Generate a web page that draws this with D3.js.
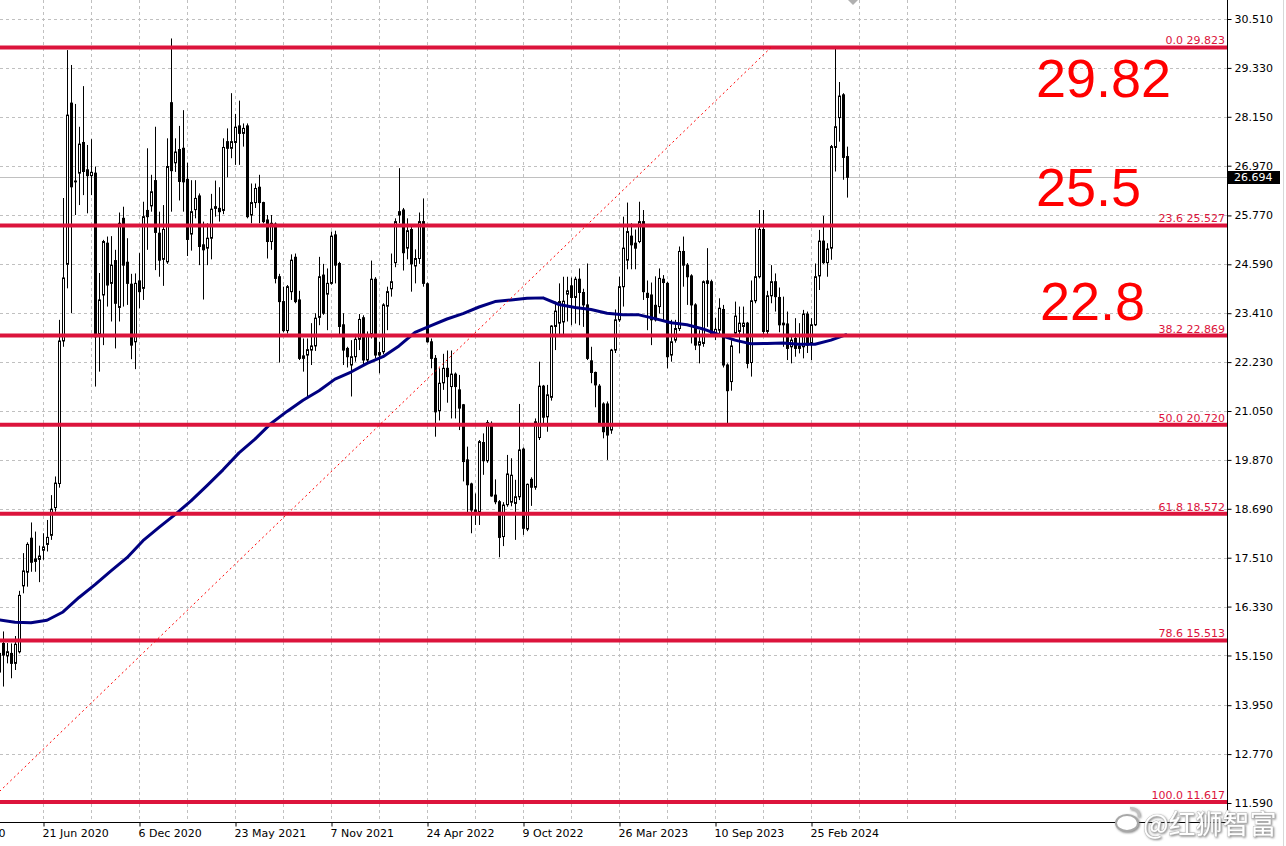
<!DOCTYPE html>
<html><head><meta charset="utf-8">
<script src="https://cdn.jsdelivr.net/npm/d3@7"></script>
<style>
html,body{margin:0;padding:0;background:#fff;overflow:hidden;}
svg{display:block;}
</style></head><body>
<svg id="chart" width="1286" height="846"></svg>
<script>
// ---------------- DATA ----------------
const firstWeek = "2020-04-05"; // first weekly bar
const opens = [15.20,15.44,15.14,15.20,14.96,15.24,16.83,17.16,17.98,17.42,17.47,17.69,17.83,18.05,18.72,19.30,22.74,24.59,28.48,26.60,
26.79,27.53,26.87,26.73,26.79,22.90,23.85,25.10,24.13,24.68,23.55,25.70,24.64,24.11,22.72,24.19,24.01,25.89,26.00,26.61,
25.34,24.71,24.65,28.49,27.04,27.36,27.39,26.64,25.32,25.91,26.24,25.06,24.98,25.22,25.98,25.94,25.89,27.55,27.39,27.53,
27.93,27.75,27.93,25.78,26.08,26.45,26.08,25.66,25.14,25.56,24.29,23.69,22.99,23.93,24.76,23.73,22.32,22.40,22.52,22.62,
23.31,24.33,23.87,24.13,25.30,24.61,23.13,22.56,22.16,22.36,22.78,23.30,22.28,22.92,24.23,22.40,22.48,23.58,24.00,24.63,
25.86,25.90,24.98,25.43,24.55,24.73,25.62,24.12,22.72,22.32,21.06,21.73,22.08,21.64,21.94,21.56,21.20,19.87,19.29,18.66,
18.62,20.29,19.85,20.75,19.02,18.86,18.02,18.79,18.85,18.82,18.98,20.13,18.20,19.40,19.21,20.41,21.65,20.91,21.38,23.09,
23.17,23.20,23.87,24.07,23.79,24.23,23.91,23.61,22.26,21.98,21.65,21.22,21.22,20.59,22.52,23.25,24.05,24.69,25.27,25.10,
25.14,25.62,23.89,23.85,23.60,23.57,24.23,24.13,22.40,22.76,23.04,24.90,24.57,24.31,23.61,22.64,22.68,24.19,24.17,22.92,
23.00,23.50,22.16,21.76,22.93,22.97,23.09,23.17,22.22,23.71,24.29,25.43,22.97,23.83,24.17,23.79,23.17,23.15,22.60,22.80,
22.56,22.60,23.39,22.68,23.13,24.31,25.15,24.63,24.98,27.41,28.13,28.68,27.19];
const highs = [15.50,15.73,15.45,15.44,15.62,16.71,17.62,17.88,18.36,18.14,17.80,18.10,18.42,19.02,19.47,23.25,26.19,29.76,29.40,28.46,
27.91,28.89,27.47,27.61,26.95,24.38,25.18,25.26,25.27,24.94,25.84,25.98,25.22,24.36,24.37,24.86,26.10,27.39,26.75,27.91,
25.86,26.02,27.63,30.04,27.63,27.93,28.31,27.04,26.62,26.62,26.30,25.62,25.58,26.29,26.61,26.45,27.63,27.87,28.72,28.22,
28.54,27.99,27.99,26.54,26.54,26.75,26.10,25.78,25.78,25.60,24.36,24.05,24.09,24.83,24.85,23.95,22.80,22.80,23.17,23.41,
24.77,24.60,24.49,25.38,25.40,24.65,23.41,22.60,22.76,22.91,23.39,23.36,22.97,24.68,24.28,22.72,23.65,24.05,24.85,25.70,
26.91,25.95,25.70,25.54,24.95,25.84,26.18,24.15,22.80,22.40,22.08,22.43,22.51,22.51,21.98,21.92,21.22,20.19,19.32,19.06,
20.35,20.51,20.83,20.80,19.40,18.90,18.85,19.99,19.91,19.39,21.22,20.17,19.30,19.45,20.87,22.24,21.68,21.68,23.12,23.69,
24.13,24.29,24.29,24.27,24.29,24.49,24.00,24.61,22.60,22.00,21.70,21.26,21.28,22.55,23.50,24.29,25.74,26.08,25.58,25.43,
26.10,25.90,24.20,24.15,24.30,24.49,24.33,24.17,23.25,23.25,25.02,25.26,24.62,24.35,23.65,23.00,24.20,24.98,24.22,23.30,
23.77,23.61,22.20,22.76,23.69,23.57,23.57,23.20,24.20,25.46,25.90,25.90,23.95,24.57,24.37,24.03,23.81,23.45,22.85,23.29,
23.17,23.49,23.45,23.29,24.61,25.42,25.76,25.10,27.47,29.80,28.99,28.72,27.43];
const lows = [14.60,14.40,14.96,14.60,14.80,15.20,16.65,16.81,17.17,17.17,16.92,17.46,17.66,17.94,18.62,19.20,22.60,24.01,23.41,25.78,
26.02,26.26,25.82,26.26,21.64,22.00,22.64,23.57,23.21,22.56,23.21,23.57,23.61,22.30,22.06,23.53,23.73,24.94,25.86,24.45,
24.29,24.07,24.60,25.86,26.82,26.13,25.86,24.79,24.92,25.70,24.57,23.74,24.57,24.71,25.74,25.62,25.80,26.69,27.15,26.99,
26.99,27.43,25.70,25.58,25.95,25.58,25.58,24.73,24.94,24.13,22.22,22.95,22.92,23.73,23.65,22.28,22.00,21.36,22.16,22.50,
23.12,23.37,23.00,24.10,24.13,22.88,22.16,22.10,21.40,22.24,22.52,22.16,22.20,22.80,22.32,21.96,22.42,23.00,23.81,24.52,
25.58,24.44,24.71,23.93,24.13,24.60,24.05,22.70,22.08,20.43,20.82,21.56,21.25,20.87,20.87,20.59,19.35,18.58,18.10,18.30,
18.30,19.51,19.80,18.98,18.80,17.52,17.79,18.74,18.75,17.94,18.90,18.06,18.15,18.76,19.15,20.35,20.74,20.55,21.30,22.52,
22.88,22.85,23.21,23.12,23.16,23.12,23.08,22.28,21.72,21.14,20.70,20.39,19.87,20.50,22.45,23.20,23.57,24.47,24.47,24.47,
25.10,23.73,23.00,22.64,23.21,23.40,23.25,22.08,22.24,22.70,22.98,24.05,23.61,22.68,22.52,22.20,22.60,23.08,22.90,22.76,
22.92,22.10,20.75,21.54,22.85,22.44,22.85,22.08,21.88,23.65,24.25,22.90,22.90,23.65,23.45,22.95,22.60,22.28,22.20,22.36,
22.44,22.32,22.45,22.28,23.10,23.97,24.60,24.29,24.70,26.83,27.55,26.63,26.20];
const closes = [14.75,15.16,15.24,14.96,15.42,16.60,17.19,17.83,17.40,17.48,17.55,17.77,18.00,18.68,19.31,22.74,24.26,28.19,26.46,26.58,
27.49,26.83,26.73,26.81,22.84,23.73,25.14,24.09,24.57,23.65,25.58,24.57,24.13,22.64,24.13,23.93,25.74,25.74,26.34,25.36,
24.69,25.43,26.95,26.85,27.30,26.59,26.58,25.19,25.86,26.18,25.02,24.94,25.22,25.92,25.94,25.86,27.41,27.39,27.55,27.90,
27.75,27.87,25.74,26.08,26.42,26.08,25.62,25.14,25.58,24.25,23.69,22.99,24.05,24.69,23.69,22.32,22.38,22.53,22.62,23.29,
24.29,23.41,24.13,25.27,24.57,23.09,22.52,22.36,22.36,22.78,23.26,22.28,22.88,24.23,22.40,22.46,23.61,23.93,24.17,25.62,
25.78,24.87,25.40,24.60,24.73,25.62,24.13,22.72,22.32,21.03,21.72,22.08,21.88,21.94,21.64,21.12,19.83,19.27,18.66,18.60,
20.31,19.85,20.77,19.00,18.86,18.00,18.78,19.53,19.50,18.98,20.11,18.22,19.28,19.21,20.79,21.65,20.90,21.44,23.10,23.46,
23.69,23.70,23.95,23.79,24.23,23.91,23.61,22.32,21.98,21.68,20.75,20.55,20.47,22.52,23.25,24.05,24.98,25.38,25.06,24.98,
25.62,23.93,23.79,23.25,23.25,24.25,24.15,22.36,22.72,23.04,24.90,24.57,24.29,23.61,22.64,22.72,24.17,24.13,22.92,23.02,
23.53,22.16,21.54,22.62,23.34,23.17,23.17,22.20,23.71,24.29,25.43,22.97,23.83,24.17,23.81,23.13,23.13,22.56,22.76,22.56,
22.62,23.39,22.64,23.13,24.29,25.15,24.63,24.96,27.43,27.91,28.65,27.17,26.69];

// Moving average read every 4 bars (bar 0, 4, 8, ...)
const maStepBars = 4;
const maValues = [16.01,15.95,15.94,16.00,16.20,16.55,16.86,17.19,17.51,17.92,18.24,18.55,18.88,19.25,19.63,20.04,20.37,20.75,21.04,21.31,
21.54,21.82,21.99,22.20,22.36,22.62,22.95,23.11,23.27,23.40,23.56,23.69,23.73,23.77,23.78,23.62,23.55,23.50,23.41,23.37,
23.37,23.28,23.18,23.13,23.03,22.89,22.76,22.67,22.68,22.69,22.66,22.66,22.76,22.90];

const fibLevels = [0.0, 23.6, 38.2, 50.0, 61.8, 78.6, 100.0];
const fibPrices = [29.823, 25.527, 22.869, 20.720, 18.572, 15.513, 11.617];
const fibAnchorDates = ["2020-03-18", "2023-12-17"];
const fibAnchorPrices = [11.617, 29.823];

const yTickValues = [30.510,29.330,28.150,26.970,25.770,24.590,23.410,22.230,21.050,19.870,18.690,17.510,16.330,15.150,13.950,12.770,11.590];
const xLabelFirst = "2020-01-05";
const xLabelLast = "2024-02-25";
const labelStepWeeks = 24;
const gridStepWeeks = 12;
const lastPrice = 26.694;
const annotationTexts = ["29.82", "25.5", "22.8"];
const watermarkText = "@红狮智富";

// ---------------- LAYOUT ----------------
const W = 1286, H = 846;
const plotRight = 1227, plotBottom = 822;
const parse = d3.utcParse("%Y-%m-%d");
const svg = d3.select("#chart");
const FONT = "'DejaVu Sans', sans-serif";

const x = d3.scaleUtc()
  .domain([parse("2020-06-21"), parse("2024-02-25")])
  .range([43, 811]);
const y = d3.scaleLinear().domain([11.59, 30.51]).range([803, 19]);

const start = parse(firstWeek);
const bars = closes.map((c, i) => ({
  date: d3.utcWeek.offset(start, i), o: opens[i], h: highs[i], l: lows[i], c: c
}));

const defs = svg.append("defs");
defs.append("clipPath").attr("id", "plotClip")
  .append("rect").attr("x", 0).attr("y", 0).attr("width", plotRight).attr("height", plotBottom);
const f = defs.append("filter").attr("id", "wmShadow").attr("x", "-10%").attr("y", "-30%").attr("width", "130%").attr("height", "160%");
f.append("feDropShadow").attr("dx", 1).attr("dy", 1).attr("stdDeviation", 1.2).attr("flood-color", "#777").attr("flood-opacity", 0.9);

const root = svg.append("g");
const plot = root.append("g").attr("clip-path", "url(#plotClip)");

// grid
const gridH = yTickValues.map(v => Math.round(y(v)) + 0.5);
plot.append("g").selectAll("line").data(gridH).join("line")
  .attr("x1", 0).attr("x2", plotRight).attr("y1", d => d).attr("y2", d => d)
  .attr("stroke", "#c0c0c0").attr("stroke-dasharray", "3,3");
const gridDates = d3.utcWeek.every(1).range(parse("2020-06-21"), parse("2024-12-31"))
  .filter((d, i) => i % gridStepWeeks === 0);
plot.append("g").selectAll("line").data(gridDates).join("line")
  .attr("x1", d => Math.round(x(d)) + 0.5).attr("x2", d => Math.round(x(d)) + 0.5)
  .attr("y1", 0).attr("y2", plotBottom)
  .attr("stroke", "#c0c0c0").attr("stroke-dasharray", "3,3");

// current price line
plot.append("line").attr("x1", 0).attr("x2", plotRight)
  .attr("y1", Math.round(y(lastPrice)) + 0.5).attr("y2", Math.round(y(lastPrice)) + 0.5)
  .attr("stroke", "#c0c0c0");

// candles
const cg = plot.append("g");
bars.forEach(b => {
  const cx = Math.round(x(b.date));
  cg.append("line").attr("x1", cx + 0.5).attr("x2", cx + 0.5)
    .attr("y1", y(b.h)).attr("y2", y(b.l)).attr("stroke", "#000").attr("stroke-width", 1);
  const top = y(Math.max(b.o, b.c)), bot = y(Math.min(b.o, b.c));
  cg.append("rect").attr("x", cx - 0.5).attr("width", 2)
    .attr("y", top).attr("height", Math.max(0.01, bot - top))
    .attr("fill", b.c >= b.o ? "#fff" : "#000").attr("stroke", "#000").attr("stroke-width", 1);
});

// moving average
const maPts = maValues.map((v, j) => ({ date: d3.utcWeek.offset(start, j * maStepBars), v }));
plot.append("path").datum(maPts)
  .attr("fill", "none").attr("stroke", "#000080").attr("stroke-width", 3)
  .attr("stroke-linejoin", "round")
  .attr("d", d3.line().x(d => x(d.date)).y(d => y(d.v)));

// fib lines
plot.append("g").selectAll("line").data(fibPrices).join("line")
  .attr("x1", 0).attr("x2", plotRight).attr("y1", d => y(d)).attr("y2", d => y(d))
  .attr("stroke", "#DC143C").attr("stroke-width", 4);

// fib diagonal
plot.append("line")
  .attr("x1", x(parse(fibAnchorDates[0]))).attr("y1", y(fibAnchorPrices[0]))
  .attr("x2", x(parse(fibAnchorDates[1]))).attr("y2", y(fibAnchorPrices[1]))
  .attr("stroke", "#ff0000").attr("stroke-width", 1).attr("stroke-dasharray", "2,3");

// fib labels
root.append("g").selectAll("text").data(fibLevels).join("text")
  .attr("x", 1225).attr("y", (d, i) => y(fibPrices[i]) - 3)
  .attr("text-anchor", "end").attr("font-family", FONT).attr("font-size", 11)
  .attr("fill", "#DC143C")
  .text((d, i) => d.toFixed(1) + " " + fibPrices[i].toFixed(3));

// annotations
const annY = [97, 206, 320], annX = [1036, 1036, 1040];
root.append("g").selectAll("text").data(annotationTexts).join("text")
  .attr("x", (d, i) => annX[i]).attr("y", (d, i) => annY[i])
  .attr("font-family", "'Liberation Sans', Arial, sans-serif").attr("font-size", 54)
  .attr("fill", "#ff0000").text(d => d);

// axes
const yAxis = d3.axisRight(y).tickValues(yTickValues).tickFormat(d3.format(".3f"))
  .tickSize(4).tickSizeOuter(0).tickPadding(3);
const ya = root.append("g").attr("transform", `translate(${plotRight + 0.5},0)`).call(yAxis);
ya.select(".domain").remove();
ya.selectAll(".tick line").attr("stroke", "#000");
ya.selectAll("text").attr("font-family", FONT).attr("font-size", 11).attr("fill", "#000");

const labelDates = d3.utcWeek.every(1).range(parse(xLabelFirst), d3.utcDay.offset(parse(xLabelLast), 1))
  .filter((d, i) => i % labelStepWeeks === 0);
const xAxis = d3.axisBottom(x).tickValues(labelDates).tickFormat(d3.utcFormat("%-d %b %Y"))
  .tickSize(4).tickSizeOuter(0).tickPadding(3);
const xa = root.append("g").attr("transform", `translate(0.5,${plotBottom + 0.5})`).call(xAxis);
xa.select(".domain").remove();
xa.selectAll(".tick line").attr("stroke", "#000");
xa.selectAll("text").attr("font-family", FONT).attr("font-size", 11).attr("fill", "#000")
  .attr("text-anchor", "start").attr("x", -1.5);

root.append("line").attr("x1", plotRight + 0.5).attr("x2", plotRight + 0.5)
  .attr("y1", 0).attr("y2", plotBottom + 1).attr("stroke", "#000");
root.append("line").attr("x1", 0).attr("x2", plotRight + 1)
  .attr("y1", plotBottom + 0.5).attr("y2", plotBottom + 0.5).attr("stroke", "#000");

// current price tag
const py = y(lastPrice);
root.append("rect").attr("x", plotRight + 1).attr("y", Math.round(py) - 6)
  .attr("width", 52).attr("height", 13).attr("fill", "#000");
root.append("text").attr("x", 1234).attr("y", py).attr("dy", "0.35em")
  .attr("font-family", FONT).attr("font-size", 11).attr("fill", "#fff")
  .text(d3.format(".3f")(lastPrice));

// chart shift marker
root.append("path").attr("d", "M848,0 L858,0 L853,5 Z").attr("fill", "#b0b0b0");

// right window edge
root.append("line").attr("x1", 1283.5).attr("x2", 1283.5).attr("y1", 0).attr("y2", H)
  .attr("stroke", "#d8d8d8");

// watermark
const wm = root.append("g").attr("filter", "url(#wmShadow)");
wm.append("ellipse").attr("cx", 1127).attr("cy", 823).attr("rx", 11).attr("ry", 8)
  .attr("fill", "#fff").attr("stroke", "#a8a8a8").attr("stroke-width", 2);
wm.append("path").attr("d", "M1130,808 q9,0 9,9").attr("fill", "none")
  .attr("stroke", "#c0c0c0").attr("stroke-width", 2.5);
wm.append("text").attr("x", 1143).attr("y", 834)
  .attr("font-family", "'Noto Sans CJK SC', sans-serif").attr("font-size", 27)
  .attr("fill", "#fff").attr("stroke", "#b5b5b5").attr("stroke-width", 0.8)
  .attr("paint-order", "stroke").text(watermarkText);
</script>
</body></html>
